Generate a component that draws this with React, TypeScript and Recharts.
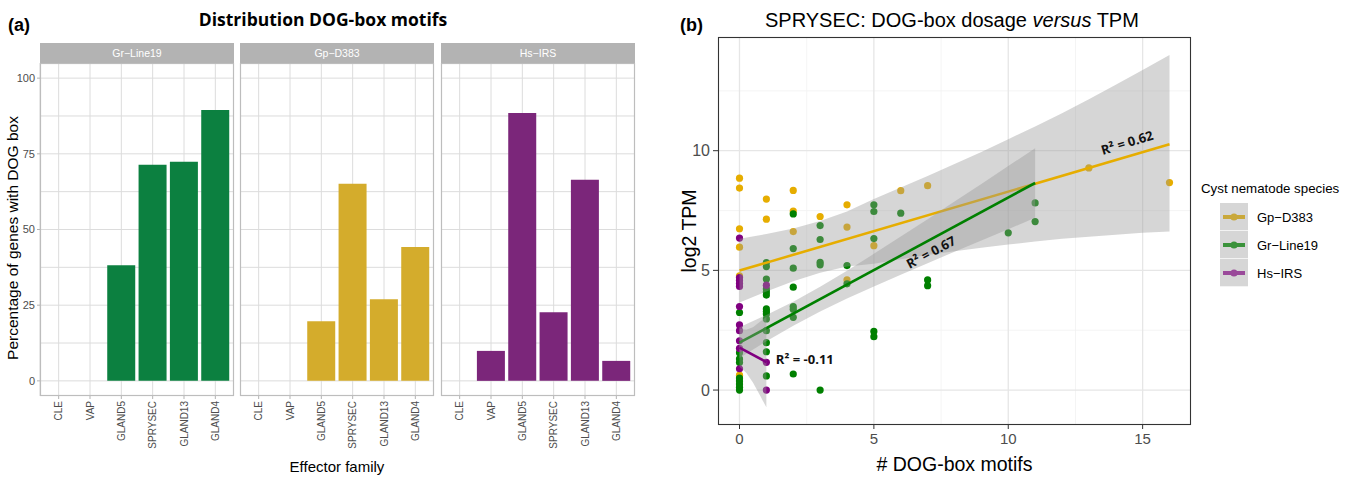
import React from 'react';
import {
  BarChart,
  Bar,
  XAxis,
  YAxis,
  CartesianGrid,
  ComposedChart,
  Scatter,
  Line,
  Area,
  ReferenceDot,
} from 'recharts';

// ---- (a) share of genes carrying a DOG box, per effector family ----
const families = ['CLE', 'VAP', 'GLAND5', 'SPRYSEC', 'GLAND13', 'GLAND4'];
const grLine19Pct = [0, 0, 38.2, 71.4, 72.4, 89.5];
const gpD383Pct = [0, 0, 19.7, 65.1, 27.0, 44.2];
const hsIrsPct = [0, 9.9, 88.5, 22.7, 66.4, 6.6];
const pctTicks = [0, 25, 50, 75, 100];
const pctGrid = [0, 12.5, 25, 37.5, 50, 62.5, 75, 87.5, 100];

// ---- (b) SPRYSEC: number of DOG-box motifs vs log2 TPM ----
const gpD383Points = [
  [0, 8.85], [0, 8.44], [0, 6.74], [0, 5.97], [0, 4.77], [0, 0.62],
  [1, 7.98], [1, 7.14],
  [2, 8.34], [2, 7.48], [2, 6.62],
  [3, 7.25],
  [4, 7.74], [4, 6.81], [4, 4.6],
  [5, 6.03], [6, 8.33], [7, 8.54], [13, 9.28], [16, 8.67],
];
const grLine19Points = [
  [0, 3.24], [0, 1.56], [0, 1.3], [0, 1.15], [0, 0.5], [0, 0.38], [0, 0.25], [0, 0.12], [0, 0],
  [1, 5.33], [1, 5.16], [1, 4.64], [1, 4.22], [1, 4.1], [1, 3.97], [1, 3.39], [1, 3.28],
  [1, 3.18], [1, 2.97], [1, 2.48], [1, 1.98], [1, 1.6], [1, 0.59],
  [2, 7.36], [2, 5.91], [2, 5.09], [2, 4.3], [2, 3.49], [2, 3.38], [2, 3.04], [2, 0.67],
  [3, 6.87], [3, 6.29], [3, 5.34], [3, 5.23], [3, 0],
  [4, 5.2], [4, 4.44],
  [5, 7.74], [5, 7.46], [5, 6.33], [5, 2.45], [5, 2.23],
  [6, 7.39], [7, 4.6], [7, 4.36], [10, 6.57], [11, 7.82], [11, 7.04],
];
const hsIrsPoints = [
  [0, 6.35], [0, 4.7], [0, 4.58], [0, 4.45], [0, 4.33], [0, 3.49], [0, 2.72],
  [0, 2.48], [0, 2.06], [0, 1.74], [0, 0.89],
  [1, 4.38], [1, 1.16], [1, 0],
];

// fitted lines (end points) and their confidence bands [x, low, high]
const gpD383Fit = [[0, 4.99], [16, 10.27]];
const grLine19Fit = [[0, 1.98], [11, 8.65]];
const hsIrsFit = [[0, 1.77], [1, 1.17]];
const gpD383Band = [
  [0, 3.66, 6.32], [1, 4.12, 6.52], [2, 4.55, 6.75], [3, 4.9, 7.06], [4, 5.16, 7.46],
  [5, 5.28, 7.98], [6, 5.46, 8.46], [7, 5.64, 8.94], [8, 5.8, 9.44], [9, 5.95, 9.95],
  [10, 6.08, 10.48], [11, 6.21, 11.01], [12, 6.32, 11.56], [13, 6.41, 12.15],
  [14, 6.49, 12.75], [15, 6.57, 13.37], [16, 6.62, 14.0],
];
const grLine19Band = [
  [0, 1.34, 2.62], [1, 2.04, 3.14], [2, 2.69, 3.69], [3, 3.28, 4.32], [4, 3.82, 4.98],
  [5, 4.33, 5.69], [6, 4.82, 6.42], [7, 5.3, 7.14], [8, 5.78, 7.88], [9, 6.25, 8.61],
  [10, 6.72, 9.36], [11, 7.2, 10.1],
];
const hsIrsBand = [
  [0, 0.97, 2.57], [0.25, 0.72, 2.52], [0.5, 0.32, 2.62], [0.75, -0.2, 2.84], [1, -0.72, 3.06],
];
const r2Labels = [
  { x: 14.42, y: 10.35, text: 'R² = 0.62', angle: -17 },
  { x: 7.12, y: 5.77, text: 'R² = 0.67', angle: -28 },
  { x: 2.43, y: 1.28, text: 'R² = -0.11', angle: 0 },
];

const sans = '"Liberation Sans", Arial, sans-serif';
const boldFont = '"Open Sans", "Liberation Sans", sans-serif';
const tickGrey = '#4d4d4d';

const facets = [
  { label: 'Gr−Line19', values: grLine19Pct, color: '#0c8040', left: 40 },
  { label: 'Gp−D383', values: gpD383Pct, color: '#d4ac2c', left: 240 },
  { label: 'Hs−IRS', values: hsIrsPct, color: '#7b267a', left: 441 },
];

const species = [
  { label: 'Gp−D383', points: gpD383Points, fit: gpD383Fit, band: gpD383Band, color: '#e6ad00', key: '#c9a83a' },
  { label: 'Gr−Line19', points: grLine19Points, fit: grLine19Fit, band: grLine19Band, color: '#008000', key: '#3a923a' },
  { label: 'Hs−IRS', points: hsIrsPoints, fit: hsIrsFit, band: hsIrsBand, color: '#800080', key: '#9a4a9a' },
];

const PANEL_W = 194;

const FamilyTick = (props: any) => {
  const { x, y, payload } = props;
  return (
    <text
      x={x}
      y={y}
      transform={`rotate(-90, ${x}, ${y})`}
      textAnchor="end"
      dy="0.35em"
      fontSize={10}
      fill={tickGrey}
    >
      {payload.value}
    </text>
  );
};

// plain tick text, left of a vertical axis
const LeftTick = (props: any) => {
  const { x, y, payload, size } = props;
  return (
    <text x={x} y={y} textAnchor="end" dy="0.35em" fontSize={size} fill={tickGrey}>
      {payload.value}
    </text>
  );
};

const BottomTick = (props: any) => {
  const { x, y, payload } = props;
  return (
    <text x={x} y={y} textAnchor="middle" dy="0.75em" fontSize={15} fill={tickGrey}>
      {payload.value}
    </text>
  );
};

const FacetChart = ({ values, color, left, first }: any) => {
  const rows = families.map((family, i) => ({ family, pct: values[i] }));
  const yw = first ? 40 : 0;
  return (
    <div style={{ position: 'absolute', left: left - yw, top: 63 }}>
      <BarChart
        width={PANEL_W + yw}
        height={416}
        data={rows}
        margin={{ top: 0, right: 0, bottom: 0, left: 0 }}
        barCategoryGap="5%"
      >
        <CartesianGrid stroke="#dcdcdc" horizontalValues={pctGrid} />
        <XAxis
          dataKey="family"
          interval={0}
          height={83}
          padding={{ left: 3, right: 3 }}
          axisLine={false}
          tickSize={3}
          tickLine={{ stroke: '#b3b3b3' }}
          tick={<FamilyTick />}
        />
        <YAxis
          hide={!first}
          width={40}
          domain={[-5, 105]}
          ticks={pctTicks}
          allowDataOverflow
          axisLine={false}
          tickSize={3}
          tickMargin={2}
          tickLine={{ stroke: '#b3b3b3' }}
          tick={<LeftTick size={11} />}
        />
        <Bar dataKey="pct" fill={color} isAnimationActive={false} />
      </BarChart>
    </div>
  );
};

const toXY = (arr: number[][]) => arr.map(([x, y]) => ({ x, y }));
const toBand = (arr: number[][]) => arr.map(([x, lo, hi]) => ({ x, band: [lo, hi] }));

const DosageChart = () => (
  <div style={{ position: 'absolute', left: 680, top: 30 }}>
    <ComposedChart width={520} height={449} margin={{ top: 7, right: 9, bottom: 0, left: 0 }}>
      <CartesianGrid
        stroke="#f1f1f1"
        strokeWidth={0.8}
        verticalValues={[2.5, 7.5, 12.5]}
        horizontalValues={[2.5, 7.5, 12.5]}
      />
      <CartesianGrid
        stroke="#e6e6e6"
        strokeWidth={1.3}
        verticalValues={[0, 5, 10, 15]}
        horizontalValues={[0, 5, 10]}
      />
      <XAxis
        type="number"
        dataKey="x"
        domain={[-0.8, 16.8]}
        ticks={[0, 5, 10, 15]}
        allowDataOverflow
        height={54}
        axisLine={false}
        tickSize={4}
        tickMargin={4}
        tickLine={{ stroke: '#333' }}
        tick={<BottomTick />}
      />
      <YAxis
        type="number"
        dataKey="y"
        domain={[-1.46, 14.75]}
        ticks={[0, 5, 10]}
        allowDataOverflow
        width={38}
        axisLine={false}
        tickSize={5}
        tickMargin={3}
        tickLine={{ stroke: '#333' }}
        tick={<LeftTick size={16} />}
      />
      {species.map((s, i) => (
        <Scatter
          key={'pts' + i}
          data={toXY(s.points)}
          dataKey="y"
          zIndex={50}
          isAnimationActive={false}
          shape={(p: any) => <circle cx={p.cx} cy={p.cy} r={3.6} fill={s.color} />}
        />
      ))}
      {species.map((s, i) => [
        <Area
          key={'band' + i}
          data={toBand(s.band)}
          dataKey="band"
          type="linear"
          stroke="none"
          fill="#999999"
          fillOpacity={0.4}
          zIndex={110 + i * 20}
          isAnimationActive={false}
        />,
        <Line
          key={'fit' + i}
          data={toXY(s.fit)}
          dataKey="y"
          stroke={s.color}
          strokeWidth={2.6}
          dot={false}
          activeDot={false}
          zIndex={120 + i * 20}
          isAnimationActive={false}
        />,
      ])}
      {r2Labels.map((l, i) => (
        <ReferenceDot
          key={'r2' + i}
          x={l.x}
          y={l.y}
          r={0}
          ifOverflow="visible"
          zIndex={2000}
          shape={(p: any) => (
            <text
              x={p.cx}
              y={p.cy}
              transform={`rotate(${l.angle}, ${p.cx}, ${p.cy})`}
              textAnchor="middle"
              dominantBaseline="central"
              fontFamily={boldFont}
              fontWeight="bold"
              fontSize={13}
              fill="#111"
            >
              {l.text}
            </text>
          )}
        />
      ))}
    </ComposedChart>
  </div>
);

const Overlay = () => (
  <svg
    width={1350}
    height={479}
    style={{ position: 'absolute', left: 0, top: 0, pointerEvents: 'none' }}
  >
    {/* panel (a) */}
    <text x={8} y={31} fontSize={18} fontWeight="bold" fill="#000">(a)</text>
    <text x={323} y={26} textAnchor="middle" fontFamily={boldFont} fontWeight="bold" fontSize={17.5} fill="#000">
      Distribution DOG-box motifs
    </text>
    {facets.map((f) => (
      <g key={f.label}>
        <rect x={f.left} y={43} width={PANEL_W} height={20} fill="#b3b3b3" />
        <text x={f.left + PANEL_W / 2} y={57} textAnchor="middle" fontSize={10.5} fill="#fff">
          {f.label}
        </text>
        <rect x={f.left + 0.5} y={63.5} width={PANEL_W - 1} height={332} fill="none" stroke="#bdbdbd" strokeWidth={1.2} />
      </g>
    ))}
    <text transform="translate(17.5, 238) rotate(-90)" textAnchor="middle" fontSize={15.5} fill="#000">
      Percentage of genes with DOG box
    </text>
    <text x={337} y={472} textAnchor="middle" fontSize={15} fill="#000">Effector family</text>

    {/* panel (b) */}
    <text x={680} y={31} fontSize={18} fontWeight="bold" fill="#000">(b)</text>
    <text x={765} y={27} fontSize={20} fill="#000">
      SPRYSEC: DOG-box dosage <tspan fontStyle="italic">versus</tspan> TPM
    </text>
    <rect x={718.5} y={37.5} width={472} height={387} fill="none" stroke="#333" strokeWidth={1.1} />
    <text transform="translate(696, 231) rotate(-90)" textAnchor="middle" fontSize={19.5} fill="#000">
      log2 TPM
    </text>
    <text x={954.5} y={471} textAnchor="middle" fontSize={19.5} fill="#000"># DOG-box motifs</text>

    {/* legend */}
    <text x={1201} y={193} fontSize={13.3} fill="#000">Cyst nematode species</text>
    {species.map((s, i) => {
      const cy = 217 + i * 28;
      return (
        <g key={s.label}>
          <rect x={1220} y={203 + i * 28} width={28} height={27.3} fill="#d6d6d6" />
          <line x1={1223} x2={1245} y1={cy} y2={cy} stroke={s.key} strokeWidth={4} />
          <circle cx={1234} cy={cy} r={3.6} fill={s.key} />
          <text x={1257} y={cy + 4.7} fontSize={13} fill="#000">{s.label}</text>
        </g>
      );
    })}
  </svg>
);

export default function App() {
  return (
    <div
      style={{
        position: 'absolute',
        left: 0,
        top: 0,
        width: 1350,
        height: 479,
        background: '#fff',
        fontFamily: sans,
        overflow: 'hidden',
      }}
    >
      {facets.map((f, i) => (
        <FacetChart key={f.label} values={f.values} color={f.color} left={f.left} first={i === 0} />
      ))}
      <DosageChart />
      <Overlay />
    </div>
  );
}
